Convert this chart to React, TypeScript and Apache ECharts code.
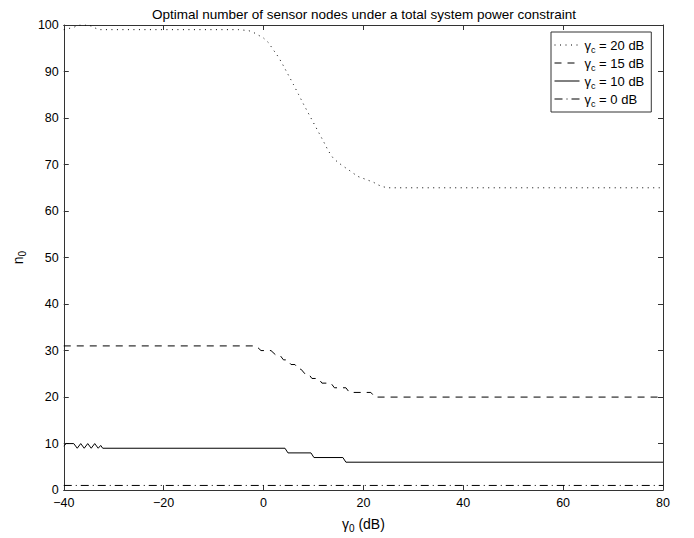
import React, { useEffect, useRef } from "react";
import * as echarts from "echarts";

const FONT = "'Liberation Sans', Arial, Helvetica, sans-serif";

const titleText = "Optimal number of sensor nodes under a total system power constraint";
const xTicks = [-40, -20, 0, 20, 40, 60, 80];
const yTicks = [0, 10, 20, 30, 40, 50, 60, 70, 80, 90, 100];

// γc = 20 dB (dotted)
const gamma20 = [-40, -38, -37, -35, -34, -33, -20, -5, -3, -2, -1, 0, 1, 2, 3, 4, 5, 6, 7, 8, 9, 10, 11, 12, 13, 14, 15, 16, 17, 18, 19, 20, 21, 22, 23, 24, 25, 80];
const n20 = [99, 99.5, 100, 100, 99.5, 99, 99, 99, 98.8, 98.4, 97.8, 97.2, 96.2, 94.6, 93.1, 91.2, 89.2, 87.2, 85.1, 83, 81, 79, 77, 75, 72.9, 71.3, 70.4, 69.6, 68.9, 68.1, 67.4, 67, 66.6, 66.2, 65.6, 65.2, 65, 65];

// γc = 15 dB (dashed)
const gamma15 = [-40, -1.5, -0.5, 1.5, 2.5, 3.3, 4, 4.8, 5.5, 6.3, 7, 7.5, 8.3, 9, 9.7, 11, 11.7, 13.5, 14.2, 16.5, 17.2, 21.5, 22.3, 80];
const n15 = [31, 31, 30, 30, 29, 29, 28, 28, 27, 27, 26, 26, 25, 25, 24, 24, 23, 23, 22, 22, 21, 21, 20, 20];

// γc = 10 dB (solid)
const gamma10 = [-40, -39.5, -38, -37.3, -36.6, -35.9, -35.2, -34.5, -33.8, -33.1, -32.6, -32.2, 4.3, 4.9, 9.5, 10.1, 15.9, 16.5, 80];
const n10 = [9.5, 10, 10, 9, 10, 9, 10, 9, 10, 9, 9.6, 9, 9, 8, 8, 7, 7, 6, 6];

// γc = 0 dB (dash-dot)
const gamma0 = [-40, 80];
const n0 = [1, 1];

const seriesNames = ["γc = 20 dB", "γc = 15 dB", "γc = 10 dB", "γc = 0 dB"];

const pairs = (xs: number[], ys: number[]) => xs.map((x, i) => [x, ys[i]]);

const richSub = {
  a: { fontSize: 13, fontFamily: FONT, color: "#000", lineHeight: 18 },
  s: { fontSize: 9, fontFamily: FONT, color: "#000", lineHeight: 9, padding: [9, 0, 0, 0] },
};
const richName = {
  a: { fontSize: 14, fontFamily: FONT, color: "#000", lineHeight: 19 },
  s: { fontSize: 10, fontFamily: FONT, color: "#000", lineHeight: 10, padding: [9, 0, 0, 0] },
};

export default function App() {
  const ref = useRef<HTMLDivElement>(null);
  useEffect(() => {
    if (!ref.current) return;
    const chart = echarts.init(ref.current, undefined, { renderer: "svg" });
    const axisColor = "#333";
    const labelStyle = { color: "#000", fontSize: 12.5, fontFamily: FONT };
    const minus = (v: number) => String(v).replace("-", "\u2212");
    const lineCommon = { type: "line", symbol: "none", showSymbol: false, smooth: false, silent: true };
    const axisLine = { show: true, onZero: false, lineStyle: { color: axisColor, width: 1 } };
    const axisTick = { show: true, inside: true, length: 5, lineStyle: { color: axisColor } };
    chart.setOption({
      animation: false,
      backgroundColor: "#fff",
      textStyle: { fontFamily: FONT },
      title: {
        text: titleText,
        left: 359,
        top: 2,
        textAlign: "center",
        textStyle: { fontSize: 13.5, fontWeight: "normal", color: "#000", fontFamily: FONT },
      },
      grid: { left: 63, right: 31, top: 25, bottom: 45, containLabel: false },
      legend: {
        orient: "vertical",
        left: 551,
        top: 32,
        padding: [4, 7, 4, 3],
        itemGap: 0,
        itemWidth: 25,
        itemHeight: 14,
        borderColor: "#333",
        borderWidth: 1,
        borderRadius: 0,
        backgroundColor: "#fff",
        itemStyle: { opacity: 0, color: "transparent", borderWidth: 0 },
        lineStyle: { width: 1 },
        data: seriesNames,
        formatter: (name: string) => `{a|γ}{s|c}{a|${name.slice(2)}}`,
        textStyle: { color: "#000", fontFamily: FONT, fontSize: 13, rich: richSub },
      },
      xAxis: [
        {
          type: "value",
          min: -40,
          max: 80,
          interval: 20,
          position: "bottom",
          name: "{a|γ}{s|0}{a| (dB)}",
          nameLocation: "middle",
          nameGap: 19,
          nameTextStyle: { rich: richName },
          axisLine,
          axisTick,
          axisLabel: { ...labelStyle, margin: 6, formatter: minus },
          splitLine: { show: false },
        },
        {
          type: "value",
          min: -40,
          max: 80,
          interval: 20,
          position: "top",
          axisLine,
          axisTick,
          axisLabel: { show: false },
          splitLine: { show: false },
        },
      ],
      yAxis: [
        {
          type: "value",
          min: 0,
          max: 100,
          interval: 10,
          position: "left",
          name: "{a|n}{s|0}",
          nameLocation: "middle",
          nameGap: 32,
          nameRotate: 90,
          nameTextStyle: { rich: richName },
          axisLine,
          axisTick,
          axisLabel: { ...labelStyle, margin: 5, padding: [0, 0, 3, 0] },
          splitLine: { show: false },
        },
        {
          type: "value",
          min: 0,
          max: 100,
          interval: 10,
          position: "right",
          axisLine,
          axisTick,
          axisLabel: { show: false },
          splitLine: { show: false },
        },
      ],
      series: [
        {
          ...lineCommon,
          name: seriesNames[0],
          data: pairs(gamma20, n20),
          lineStyle: { color: "#000", width: 1, type: [1, 4.5] },
          itemStyle: { color: "#000" },
        },
        {
          ...lineCommon,
          name: seriesNames[1],
          data: pairs(gamma15, n15),
          lineStyle: { color: "#000", width: 1, type: [7, 6] },
          itemStyle: { color: "#000" },
        },
        {
          ...lineCommon,
          name: seriesNames[2],
          data: pairs(gamma10, n10),
          lineStyle: { color: "#000", width: 1, type: "solid" },
          itemStyle: { color: "#000" },
        },
        {
          ...lineCommon,
          name: seriesNames[3],
          data: pairs(gamma0, n0),
          lineStyle: { color: "#000", width: 1, type: [8, 4, 1, 4] },
          itemStyle: { color: "#000" },
        },
      ],
    });
    return () => chart.dispose();
  }, []);
  return (
    <div
      ref={ref}
      style={{ position: "fixed", left: 0, top: 0, width: 694, height: 538, background: "#fff" }}
    />
  );
}
